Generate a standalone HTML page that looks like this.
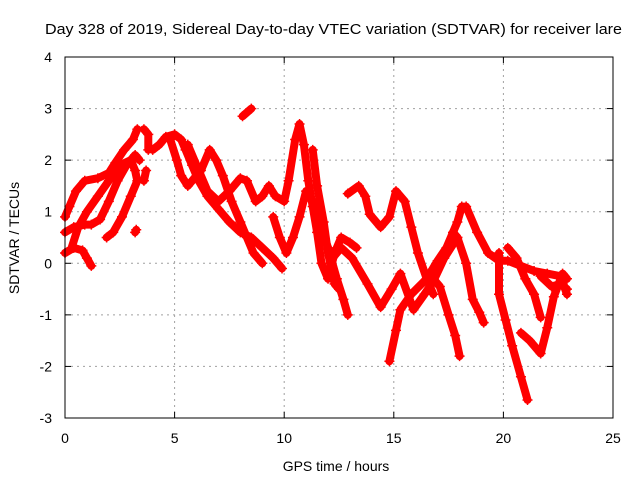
<!DOCTYPE html>
<html><head><meta charset="utf-8"><style>
body{margin:0;background:#fff;width:640px;height:480px;overflow:hidden}
svg{display:block;font-family:"Liberation Sans",sans-serif}
</style></head><body>
<svg id="chart" width="640" height="480">
<text x="45" y="34" font-size="14.5" textLength="577" lengthAdjust="spacingAndGlyphs">Day 328 of 2019, Sidereal Day-to-day VTEC variation (SDTVAR) for receiver lare</text>
<text x="336" y="471" text-anchor="middle" font-size="14">GPS time / hours</text>
<text transform="translate(19,238) rotate(-90)" text-anchor="middle" font-size="14">SDTVAR / TECUs</text>
<g id="grid"></g><g id="series"></g>
<rect x="65" y="57" width="548" height="361" fill="none" stroke="#000" stroke-width="1"/>
</svg>
<script>
const xTicks=[0,5,10,15,20,25];
const yTicks=[-3,-2,-1,0,1,2,3,4];
const tracks=[
[[0,0.9],[0.2,1.1],[0.5,1.4],[0.9,1.6],[1.5,1.65],[2,1.75],[2.3,1.95],[2.7,2.2],[3.1,2.4],[3.3,2.6]],
[[0,0.6],[0.4,0.7],[0.9,0.75],[1.2,0.75],[1.6,0.85],[2,1.2],[2.4,1.6],[2.8,1.9],[3.2,2.1],[3.4,2.0]],
[[0,0.2],[0.4,0.3],[0.8,0.25],[1,0.1],[1.2,-0.05]],
[[0.3,0.3],[0.6,0.7],[1,1.0],[1.5,1.3],[2,1.6],[2.5,1.9],[3,2.0],[3.2,1.8],[3.3,1.6],[3.0,1.3],[2.6,0.9],[2.2,0.6],[1.9,0.5]],
[[3.2,0.6],[3.25,0.65]],
[[3.6,1.6],[3.7,1.8]],
[[3.6,2.6],[3.8,2.5],[3.8,2.2]],
[[8.1,2.85],[8.5,3.0]],
[[4,2.2],[4.3,2.3],[4.6,2.45],[5,2.5],[5.3,2.4],[5.5,2.2],[5.8,1.9],[6.1,1.6],[6.5,1.3],[7,1.05],[7.5,0.8],[8,0.6],[8.5,0.5],[9,0.3],[9.5,0.1],[9.9,-0.1]],
[[4.8,2.4],[5.1,2.0],[5.3,1.7],[5.6,1.5],[5.8,1.6],[6.2,1.8],[6.6,2.2],[6.9,2.0],[7.2,1.7],[7.6,1.2],[8,0.8],[8.3,0.5],[8.6,0.2],[9,0.0]],
[[5.6,2.3],[6,1.9],[6.5,1.4],[7,1.2],[7.5,1.4],[8,1.65],[8.3,1.6],[8.7,1.2],[9,1.3],[9.3,1.5],[9.6,1.3],[10,1.2],[10.2,1.6],[10.5,2.4],[10.7,2.7],[10.9,2.3],[11.1,1.6],[11.3,1.1],[11.5,0.6],[11.7,0.0],[12,-0.3],[12.3,0.2],[12.6,0.5],[13,0.4],[13.3,0.3]],
[[9.5,0.9],[9.8,0.5],[10.1,0.2],[10.4,0.5],[10.7,0.9],[11,1.4],[11.3,1.2],[11.6,0.8],[12,0.3],[12.4,-0.3],[12.7,-0.7],[12.9,-1.0]],
[[11.3,2.2],[11.5,1.5],[11.8,0.8],[12,0.2],[12.3,-0.4],[12.5,-0.5]],
[[11.8,0.5],[12.2,0.1],[12.6,0.3],[13.1,0.1],[13.8,-0.4],[14.4,-0.85],[14.9,-0.5],[15.3,-0.2],[15.9,-0.9],[16.4,-0.6],[16.8,-0.35],[17.3,0.1],[17.9,0.5]],
[[12.9,1.35],[13.4,1.5],[13.7,1.3],[13.9,0.95],[14.4,0.7],[14.8,0.9],[15.1,1.4],[15.5,1.2],[15.8,0.7],[16.1,0.2],[16.5,-0.3],[16.8,-0.6]],
[[14.8,-1.9],[15.1,-1.3],[15.3,-0.9],[15.8,-0.6],[16.5,-0.3],[17.0,0.05],[17.4,0.3],[17.9,0.8],[18.1,1.1],[18.3,1.1],[18.8,0.6],[19.3,0.2],[19.8,0.05],[20.2,0.05],[20.8,-0.05],[21.4,-0.15],[22.0,-0.2],[22.6,-0.25],[22.9,-0.6]],
[[16.6,-0.2],[17.1,-0.45],[17.5,-1.0],[17.8,-1.4],[18.0,-1.8]],
[[17.7,0.6],[17.9,0.5],[18.3,0.0],[18.6,-0.7],[18.9,-0.95],[19.1,-1.15]],
[[19.8,0.2],[19.8,-0.6],[20.1,-1.1],[20.4,-1.6],[20.8,-2.2],[21.1,-2.65]],
[[20.2,0.3],[20.6,0.1],[21.0,-0.3],[21.4,-0.6],[21.7,-1.05]],
[[20.8,-1.35],[21.2,-1.5],[21.7,-1.75],[22.0,-1.25],[22.3,-0.65],[22.7,-0.2],[22.9,-0.3]],
[[21.7,-0.25],[22.2,-0.45],[22.6,-0.4],[22.9,-0.5]]
];
const X=v=>65+v*548/25, Y=v=>418-(v+3)*361/7;
const NS='http://www.w3.org/2000/svg';
const g=document.getElementById('grid'), s=document.getElementById('series');
function mk(t,a,p){const e=document.createElementNS(NS,t);for(const k in a)e.setAttribute(k,a[k]);p.appendChild(e);return e;}
xTicks.forEach(t=>{
  if(t>0&&t<25){const l=mk('line',{x1:X(t),x2:X(t),y1:57,y2:418,stroke:'#a0a0a0','stroke-dasharray':'2,4'},g);
  
  }
  mk('line',{x1:X(t),x2:X(t),y1:418,y2:412,stroke:'#000'},g);
  mk('line',{x1:X(t),x2:X(t),y1:57,y2:63,stroke:'#000'},g);
  const tx=mk('text',{x:X(t),y:443,'text-anchor':'middle','font-size':14},g);tx.textContent=t;
  
  
});
yTicks.forEach(t=>{
  if(t>-3&&t<4){const l=mk('line',{x1:65,x2:613,y1:Y(t),y2:Y(t),stroke:'#a0a0a0','stroke-dasharray':'2,4'},g);
  
  }
  mk('line',{x1:65,x2:71,y1:Y(t),y2:Y(t),stroke:'#000'},g);
  mk('line',{x1:607,x2:613,y1:Y(t),y2:Y(t),stroke:'#000'},g);
  const tx=mk('text',{x:52,y:Y(t)+5,'text-anchor':'end','font-size':14},g);tx.textContent=t;
  
  
});
tracks.forEach((tr,i)=>{
  const d=tr.map((p,j)=>(j?'L':'M')+X(p[0]).toFixed(1)+','+Y(p[1]).toFixed(1)).join('');
  const pth=mk('path',{d:d,fill:'none',stroke:'#ff0000','stroke-width':8,'stroke-linejoin':'round','stroke-linecap':'round'},s);
  
  
  tr.forEach(p=>{
    const x=X(p[0]),y=Y(p[1]);
    const m=mk('path',{d:`M${x-5},${y}h10M${x},${y-5}v10`,stroke:'#ff0000','stroke-width':1.5},s);
    
    
  });
});
</script>
</body></html>
